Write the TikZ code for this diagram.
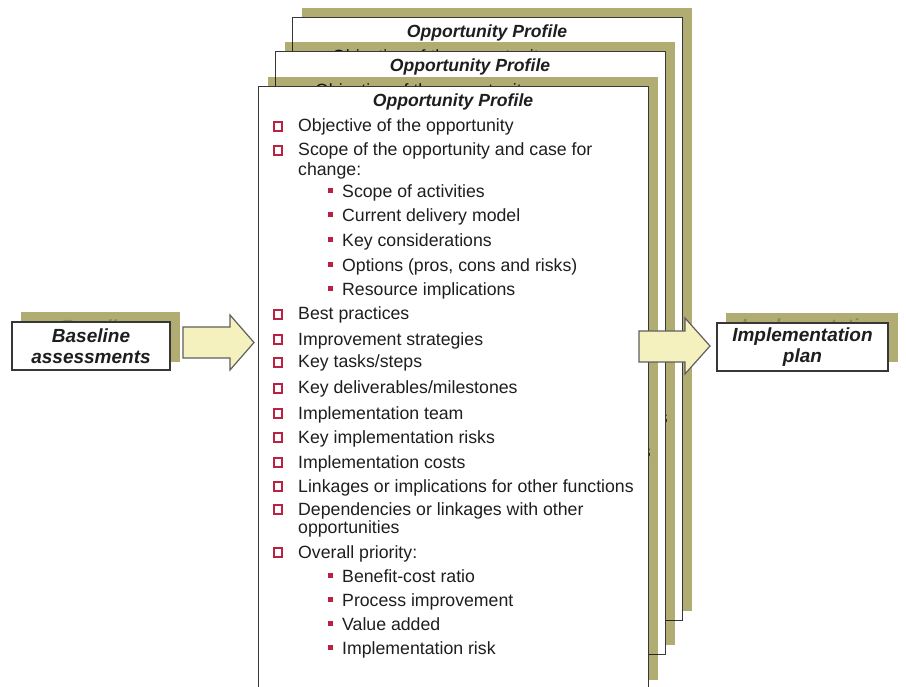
\documentclass[tikz,border=0pt]{standalone}
\usepackage{fontspec}
\setmainfont{Liberation Sans}
\definecolor{shadowcol}{RGB}{176,172,114}
\definecolor{bulletred}{RGB}{185,32,66}
\definecolor{arrowfill}{RGB}{244,241,190}
\definecolor{edgegray}{RGB}{55,55,55}
\definecolor{txt}{RGB}{30,30,30}
\tikzset{
  bodytext/.style={font=\fontsize{17.7}{20}\selectfont, anchor=base west, inner sep=0pt, text=txt},
  titletext/.style={font=\fontsize{17.6}{20}\selectfont\bfseries\itshape, anchor=base, inner sep=0pt, text=txt},
  mainbullet/.style={draw=bulletred, line width=2.3pt, minimum size=8.4pt, inner sep=0pt},
  subbullet/.style={fill=bulletred, minimum size=5pt, inner sep=0pt},
  pagebox/.style={fill=white, draw=edgegray, line width=1.4pt, minimum width=390pt, minimum height=603pt, anchor=north west, inner sep=0pt},
  sidebox/.style={fill=white, draw=edgegray, line width=1.4pt, align=center, inner sep=0pt,
     font=\fontsize{19}{21}\selectfont\bfseries\itshape, text=txt},
  ghosttext/.style={align=center, inner sep=0pt,
     font=\fontsize{19}{21}\selectfont\bfseries\itshape, text=shadowcol!80!black},
  blockarrow/.style={fill=arrowfill, draw=edgegray!80, line width=1.2pt, line join=miter},
}
\newcommand{\mitem}[4]{%
  \node[mainbullet] (#1-#2b) at (20,#3-5.5) {};
  \node[bodytext] (#1-#2) at (40,#3) {#4};}
\newcommand{\citem}[4]{%
  \node[bodytext] (#1-#2) at (40,#3) {#4};}
\newcommand{\sitem}[4]{%
  \node[subbullet] (#1-#2b) at (72.5,#3-7) {};
  \node[bodytext] (#1-#2) at (84,#3) {#4};}
\newcommand{\pageshadow}[2]{%
  \begin{scope}[shift={(#1,#2)}, blend mode=multiply]
    \fill[shadowcol] (10,-9) rectangle (400,594);
  \end{scope}}
\newcommand{\oppage}[3]{%
  \begin{scope}[shift={(#2,#3)}]
    \node[pagebox] (#1) at (0,0) {};
    \node[titletext] (#1-t) at (195,21) {Opportunity Profile};
    \mitem{#1}{a}{46}{Objective of the opportunity}
    \mitem{#1}{b}{70}{Scope of the opportunity and case for}
    \citem{#1}{c}{90}{change:}
    \sitem{#1}{d}{112}{Scope of activities}
    \sitem{#1}{e}{136}{Current delivery model}
    \sitem{#1}{f}{161}{Key considerations}
    \sitem{#1}{g}{186}{Options (pros, cons and risks)}
    \sitem{#1}{h}{210}{Resource implications}
    \mitem{#1}{i}{234}{Best practices}
    \mitem{#1}{j}{259}{Improvement strategies}
    \mitem{#1}{k}{282}{Key tasks/steps}
    \mitem{#1}{l}{308}{Key deliverables/milestones}
    \mitem{#1}{m}{333}{Implementation team}
    \mitem{#1}{n}{357}{Key implementation risks}
    \mitem{#1}{o}{382}{Implementation costs}
    \mitem{#1}{p}{406}{Linkages or implications for other functions}
    \mitem{#1}{q}{429}{Dependencies or linkages with other}
    \citem{#1}{r}{447}{opportunities}
    \mitem{#1}{s}{472}{Overall priority:}
    \sitem{#1}{u}{496}{Benefit-cost ratio}
    \sitem{#1}{v}{520}{Process improvement}
    \sitem{#1}{w}{544}{Value added}
    \sitem{#1}{x}{568}{Implementation risk}
  \end{scope}}
\begin{document}
\begin{tikzpicture}[x=1pt,y=-1pt]
  \useasboundingbox (0,0) rectangle (906,687);
  \clip (0,0) rectangle (906,687);
  \fill[white] (0,0) rectangle (906,687);
  % stacked pages, back to front (shadows multiply over what lies behind)
  \pageshadow{292}{17}
  \oppage{pthree}{292}{17}
  \pageshadow{275}{51}
  \oppage{ptwo}{275}{51}
  \pageshadow{258}{86}
  \oppage{pone}{258}{86}
  % left box with its shadow
  \fill[shadowcol] (21,312) rectangle (180,362);
  \node[ghosttext] (baseg) at (100,337) {Baseline\\assessments};
  \node[sidebox, minimum width=158pt, minimum height=48pt] (base) at (91,346) {Baseline\\assessments};
  % right box with its shadow
  \fill[shadowcol] (726,313) rectangle (898,362);
  \node[ghosttext] (implg) at (811.5,338) {Implementation\\plan};
  \node[sidebox, minimum width=171pt, minimum height=48pt] (impl) at (802.5,347) {Implementation\\plan};
  % block arrows
  \draw[blockarrow] (183,327) -- (230,327) -- (230,315) -- (254,342.5) -- (230,370) -- (230,358) -- (183,358) -- cycle;
  \draw[blockarrow] (639,331) -- (685,331) -- (685,318) -- (710,346) -- (685,374) -- (685,362) -- (639,362) -- cycle;
\end{tikzpicture}
\end{document}
